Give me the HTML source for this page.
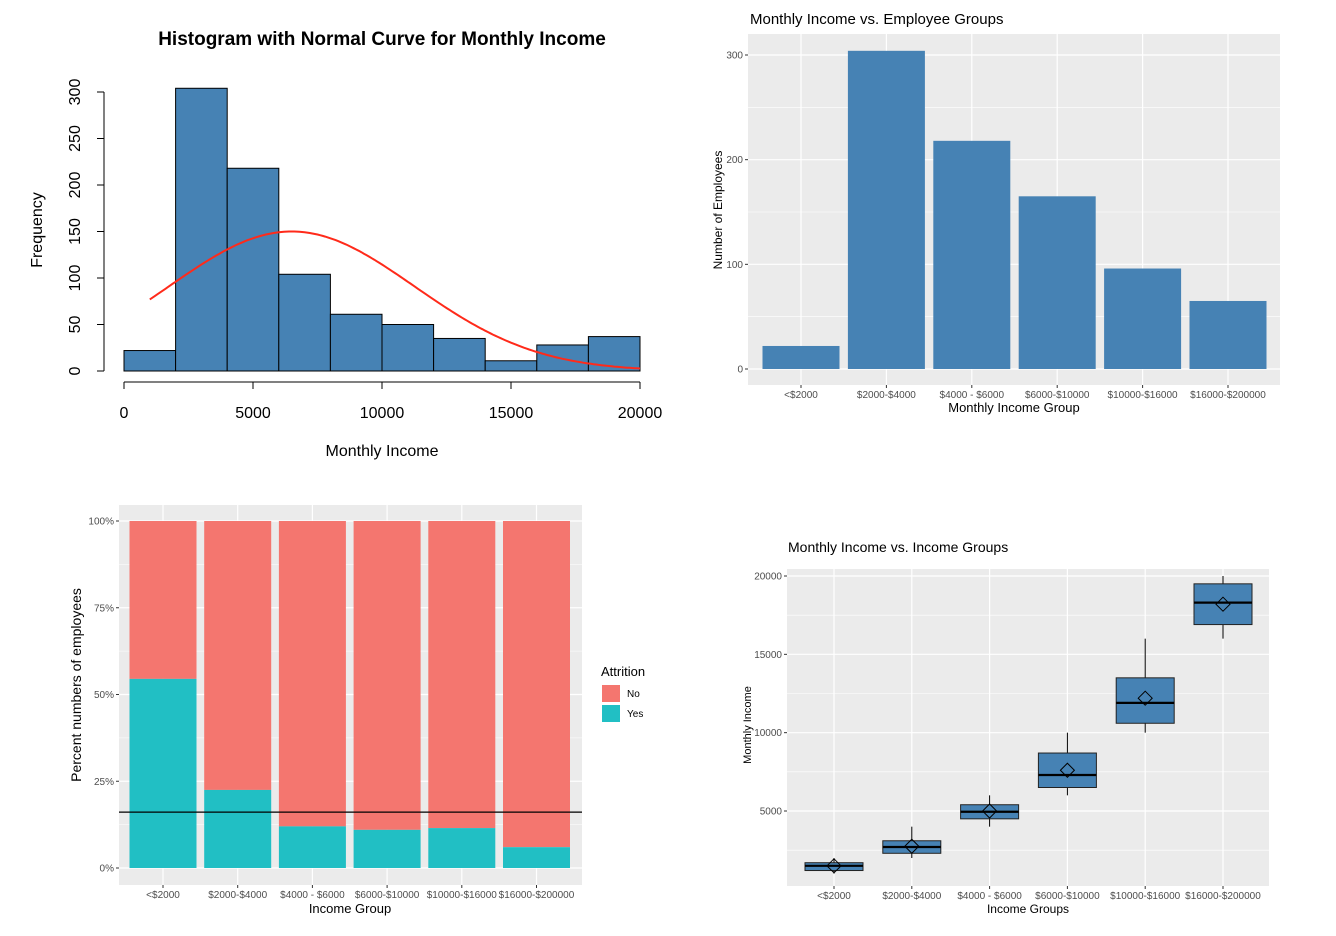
<!DOCTYPE html>
<html><head><meta charset="utf-8"><style>
body{margin:0;background:#fff;}
svg{display:block;font-family:"Liberation Sans",Arial,sans-serif;}
</style></head><body>
<svg id="s" width="1336" height="936" viewBox="0 0 1336 936" xmlns="http://www.w3.org/2000/svg"></svg>
<script>
// ---- Data ----
const histBinStarts = [0,2000,4000,6000,8000,10000,12000,14000,16000,18000];
const histCounts = [22,304,218,104,61,50,35,11,28,37];
const histXTicks = [0,5000,10000,15000,20000];
const histYTicks = [0,50,100,150,200,250,300];
const normalMean = 6500;
const normalSd = 4760;
const normalPeak = 150;

const groups = ["<$2000","$2000-$4000","$4000 - $6000","$6000-$10000","$10000-$16000","$16000-$200000"];
const groupCounts = [22,304,218,165,96,65];
const countTicks = [0,100,200,300];

const attritionYes = [54.5,22.5,12,11,11.5,6];
const attritionOverall = 16.1;
const pctTicks = [0,25,50,75,100];
const pctTickLabels = ["0%","25%","50%","75%","100%"];

const boxLow = [1000,2000,4000,6000,10000,16000];
const boxQ1 = [1200,2300,4500,6500,10600,16900];
const boxMed = [1500,2700,4950,7300,11900,18300];
const boxQ3 = [1700,3100,5400,8700,13500,19500];
const boxHigh = [2000,4000,6000,10000,16000,20000];
const boxMean = [1500,2750,5000,7600,12200,18200];
const incomeTicks = [5000,10000,15000,20000];

const S = document.getElementById('s');
const NS = 'http://www.w3.org/2000/svg';
function el(tag, attrs, parent, text){
  const e = document.createElementNS(NS, tag);
  for (const k in attrs) e.setAttribute(k, attrs[k]);
  if (text !== undefined) e.textContent = text;
  (parent||S).appendChild(e);
  return e;
}
function grp(name){ const g = el('g',{});   return g; }

// ===== Panel 1: Histogram =====
(function(){
  const g = grp('histogram-panel');
  const x = v => 124 + v*(640-124)/20000;
  const y = v => 371 - v*(371-92)/300;
  let t = el('text',{x:382,y:45,'text-anchor':'middle','font-size':19,'font-weight':'bold'},g,'Histogram with Normal Curve for Monthly Income');
   
  histCounts.forEach((c,i)=>{
    const r = el('rect',{x:x(histBinStarts[i]),y:y(c),width:x(histBinStarts[i]+2000)-x(histBinStarts[i]),height:y(0)-y(c),fill:'#4682b4',stroke:'#000','stroke-width':1},g);
     
  });
  let d='';
  for (let v=1000; v<=20000; v+=100){
    const f = normalPeak*Math.exp(-Math.pow(v-normalMean,2)/(2*normalSd*normalSd));
    d += (d?'L':'M') + x(v).toFixed(1)+','+y(f).toFixed(1);
  }
  const p = el('path',{d:d,fill:'none',stroke:'#ff2a1a','stroke-width':2},g);
   
  const ya = grp('hist-y-axis'); g.appendChild(ya);
  el('line',{x1:104,x2:104,y1:y(0),y2:y(300),stroke:'#000'},ya);
  histYTicks.forEach(v=>{
    el('line',{x1:97,x2:104,y1:y(v),y2:y(v),stroke:'#000'},ya);
    el('text',{x:0,y:0,transform:`translate(80,${y(v)}) rotate(-90)`,'text-anchor':'middle','font-size':16},ya,String(v));
  });
  const xa = grp('hist-x-axis'); g.appendChild(xa);
  el('line',{x1:x(0),x2:x(20000),y1:382,y2:382,stroke:'#000'},xa);
  histXTicks.forEach(v=>{
    el('line',{x1:x(v),x2:x(v),y1:382,y2:389,stroke:'#000'},xa);
    el('text',{x:x(v),y:418,'text-anchor':'middle','font-size':16},xa,String(v));
  });
  t = el('text',{x:382,y:456,'text-anchor':'middle','font-size':16},g,'Monthly Income');
   
  t = el('text',{x:0,y:0,transform:'translate(42,230) rotate(-90)','text-anchor':'middle','font-size':16},g,'Frequency');
   
})();

// ===== Panel 2: Bar chart =====
(function(){
  const g = grp('employee-groups-panel');
  const L=748,R=1280,T=34,B=385;
  const x = i => 801 + i*85.4;
  const y = v => 369 - v*(369-55)/300;
  el('rect',{x:L,y:T,width:R-L,height:B-T,fill:'#ebebeb'},g);
  [50,150,250].forEach(v=>el('line',{x1:L,x2:R,y1:y(v),y2:y(v),stroke:'#fff','stroke-width':0.6},g));
  countTicks.forEach(v=>el('line',{x1:L,x2:R,y1:y(v),y2:y(v),stroke:'#fff','stroke-width':1.2},g));
  groups.forEach((c,i)=>el('line',{x1:x(i),x2:x(i),y1:T,y2:B,stroke:'#fff','stroke-width':1.2},g));
  groupCounts.forEach((v,i)=>{
    const r = el('rect',{x:x(i)-38.5,y:y(v),width:77,height:y(0)-y(v),fill:'#4682b4'},g);
     
  });
  countTicks.forEach(v=>{
    el('line',{x1:745,x2:748,y1:y(v),y2:y(v),stroke:'#333'},g);
    el('text',{x:743,y:y(v)+3.5,'text-anchor':'end','font-size':10,fill:'#4d4d4d'},g,String(v));
  });
  groups.forEach((c,i)=>{
    el('line',{x1:x(i),x2:x(i),y1:B,y2:B+3,stroke:'#333'},g);
    el('text',{x:x(i),y:398,'text-anchor':'middle','font-size':10,fill:'#4d4d4d'},g,c);
  });
  let t = el('text',{x:750,y:24,'font-size':15},g,'Monthly Income vs. Employee Groups');
   
  t = el('text',{x:1014,y:412,'text-anchor':'middle','font-size':13},g,'Monthly Income Group');
   
  t = el('text',{x:0,y:0,transform:'translate(722,210) rotate(-90)','text-anchor':'middle','font-size':12},g,'Number of Employees');
   
})();

// ===== Panel 3: Stacked percent =====
(function(){
  const g = grp('attrition-panel');
  const L=119,R=582,T=505,B=885;
  const x = i => 163 + i*74.7;
  const y = v => 868 - v*(868-521)/100;
  el('rect',{x:L,y:T,width:R-L,height:B-T,fill:'#ebebeb'},g);
  [12.5,37.5,62.5,87.5].forEach(v=>el('line',{x1:L,x2:R,y1:y(v),y2:y(v),stroke:'#fff','stroke-width':0.6},g));
  pctTicks.forEach(v=>el('line',{x1:L,x2:R,y1:y(v),y2:y(v),stroke:'#fff','stroke-width':1.2},g));
  groups.forEach((c,i)=>el('line',{x1:x(i),x2:x(i),y1:T,y2:B,stroke:'#fff','stroke-width':1.2},g));
  attritionYes.forEach((v,i)=>{
    let r = el('rect',{x:x(i)-33.5,y:y(100),width:67,height:y(v)-y(100),fill:'#f4766f'},g);
     
    r = el('rect',{x:x(i)-33.5,y:y(v),width:67,height:y(0)-y(v),fill:'#21bfc4'},g);
     
  });
  const hl = el('line',{x1:L,x2:R,y1:y(attritionOverall),y2:y(attritionOverall),stroke:'#000','stroke-width':1.2},g);
   
  pctTicks.forEach((v,i)=>{
    el('line',{x1:116,x2:119,y1:y(v),y2:y(v),stroke:'#333'},g);
    el('text',{x:114,y:y(v)+3.5,'text-anchor':'end','font-size':10,fill:'#4d4d4d'},g,pctTickLabels[i]);
  });
  groups.forEach((c,i)=>{
    el('line',{x1:x(i),x2:x(i),y1:B,y2:B+3,stroke:'#333'},g);
    el('text',{x:x(i),y:898,'text-anchor':'middle','font-size':10,fill:'#4d4d4d'},g,c);
  });
  let t = el('text',{x:350,y:913,'text-anchor':'middle','font-size':13},g,'Income Group');
   
  t = el('text',{x:0,y:0,transform:'translate(81,685) rotate(-90)','text-anchor':'middle','font-size':14},g,'Percent numbers of employees');
   
  const lg = grp('attrition-legend'); g.appendChild(lg);
  el('text',{x:601,y:676,'font-size':13},lg,'Attrition');
  el('rect',{x:602,y:685,width:18,height:17,fill:'#f4766f'},lg);
  el('rect',{x:602,y:705,width:18,height:17,fill:'#21bfc4'},lg);
  el('text',{x:627,y:697,'font-size':10},lg,'No');
  el('text',{x:627,y:717,'font-size':10},lg,'Yes');
})();

// ===== Panel 4: Boxplot =====
(function(){
  const g = grp('boxplot-panel');
  const L=787,R=1269,T=569,B=886;
  const x = i => 834 + i*77.8;
  const y = v => 811 - (v-5000)*(811-576)/15000;
  el('rect',{x:L,y:T,width:R-L,height:B-T,fill:'#ebebeb'},g);
  [2500,7500,12500,17500].forEach(v=>el('line',{x1:L,x2:R,y1:y(v),y2:y(v),stroke:'#fff','stroke-width':0.6},g));
  incomeTicks.forEach(v=>el('line',{x1:L,x2:R,y1:y(v),y2:y(v),stroke:'#fff','stroke-width':1.2},g));
  groups.forEach((c,i)=>el('line',{x1:x(i),x2:x(i),y1:T,y2:B,stroke:'#fff','stroke-width':1.2},g));
  groups.forEach((c,i)=>{
    const b = grp('income-box'); g.appendChild(b);
    el('line',{x1:x(i),x2:x(i),y1:y(boxHigh[i]),y2:y(boxLow[i]),stroke:'#000','stroke-width':1},b);
    el('rect',{x:x(i)-29,y:y(boxQ3[i]),width:58,height:y(boxQ1[i])-y(boxQ3[i]),fill:'#4682b4',stroke:'#222','stroke-width':1},b);
    el('line',{x1:x(i)-29,x2:x(i)+29,y1:y(boxMed[i]),y2:y(boxMed[i]),stroke:'#000','stroke-width':2.2},b);
    const my=y(boxMean[i]);
    el('path',{d:`M${x(i)},${my-7}L${x(i)+7},${my}L${x(i)},${my+7}L${x(i)-7},${my}Z`,fill:'none',stroke:'#000','stroke-width':1},b);
  });
  incomeTicks.forEach(v=>{
    el('line',{x1:784,x2:787,y1:y(v),y2:y(v),stroke:'#333'},g);
    el('text',{x:782,y:y(v)+3.5,'text-anchor':'end','font-size':10,fill:'#4d4d4d'},g,String(v));
  });
  groups.forEach((c,i)=>{
    el('line',{x1:x(i),x2:x(i),y1:B,y2:B+3,stroke:'#333'},g);
    el('text',{x:x(i),y:899,'text-anchor':'middle','font-size':10,fill:'#4d4d4d'},g,c);
  });
  let t = el('text',{x:788,y:552,'font-size':14},g,'Monthly Income vs. Income Groups');
   
  t = el('text',{x:1028,y:913,'text-anchor':'middle','font-size':12},g,'Income Groups');
   
  t = el('text',{x:0,y:0,transform:'translate(751,725) rotate(-90)','text-anchor':'middle','font-size':11},g,'Monthly Income');
   
})();
</script>
</body></html>
